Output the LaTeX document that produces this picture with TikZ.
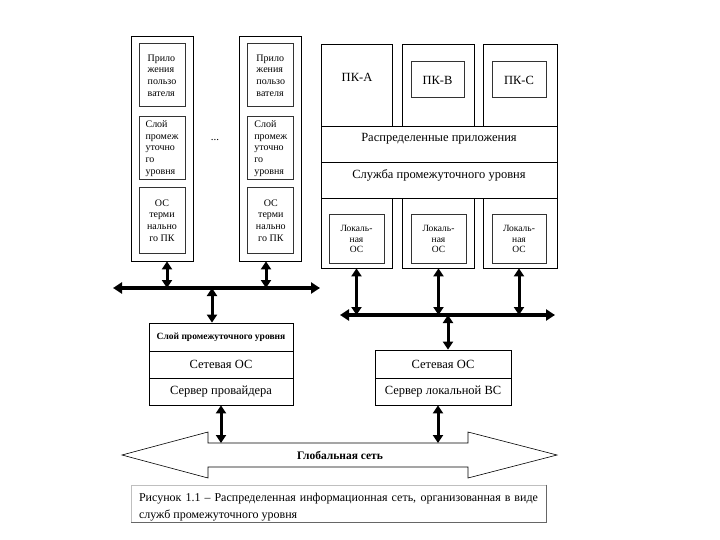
\documentclass[tikz,border=0pt]{standalone}
\usepackage{fontspec}
\setmainfont{Liberation Serif}
\usetikzlibrary{arrows.meta,calc}
\begin{document}
\begin{tikzpicture}[x=1pt,y=-1pt,
  box/.style={draw, line width=0.8pt, rectangle, inner sep=0pt},
  ibox/.style={draw=black!80, line width=1pt, rectangle, inner sep=0pt},
  small/.style={font=\fontsize{10}{11.7}\selectfont},
  lab/.style={font=\fontsize{12.5}{14}\selectfont, inner sep=0pt},
  dar/.style={line width=3pt, {Triangle[length=8pt,width=10pt]}-{Triangle[length=8pt,width=10pt]}},
  busline/.style={line width=4pt, {Triangle[length=9pt,width=11pt]}-{Triangle[length=9pt,width=11pt]}}
]
\useasboundingbox (0,0) rectangle (720,540);

% ---- left terminal columns ----
\node[box, minimum width=62pt, minimum height=225pt] (c1) at (162,148.5) {};
\node[ibox, small, align=left, minimum width=46pt, minimum height=63pt] (c1a) at (162,75.5) {Прило\\жения\\пользо\\вателя};
\node[ibox, small, align=left, minimum width=46pt, minimum height=63pt] (c1b) at (162,148.5) {Слой\\промеж\\уточно\\го\\уровня};
\node[ibox, small, align=center, minimum width=46pt, minimum height=65pt] (c1c) at (162,220.5) {ОС\\терми\\нально\\го ПК};

\node[box, minimum width=62pt, minimum height=225pt] (c2) at (270.5,148.5) {};
\node[ibox, small, align=left, minimum width=46pt, minimum height=63pt] (c2a) at (270.8,75.5) {Прило\\жения\\пользо\\вателя};
\node[ibox, small, align=left, minimum width=46pt, minimum height=63pt] (c2b) at (270.8,148.5) {Слой\\промеж\\уточно\\го\\уровня};
\node[ibox, small, align=center, minimum width=46pt, minimum height=65pt] (c2c) at (270.8,220.5) {ОС\\терми\\нально\\го ПК};

\node[font=\fontsize{11}{12}\selectfont] (dots) at (215,140) {...};

% ---- left bus ----
\coordinate (bus1L) at (113,288);
\coordinate (bus1R) at (320,288);
\draw[busline] (bus1L) -- (bus1R);
\draw[dar] ([xshift=5pt]c1.south) -- ([xshift=5pt]c1.south |- bus1L);
\draw[dar] ([xshift=-4.5pt]c2.south) -- ([xshift=-4.5pt]c2.south |- bus1L);

% ---- provider server ----
\node[box, minimum width=144pt, minimum height=28pt, font=\bfseries\fontsize{9.5}{10}\selectfont] (m1) at (221,337) {Слой промежуточного уровня};
\node[box, minimum width=144pt, minimum height=27pt, lab] (m2) at (221,364.5) {Сетевая ОС};
\node[box, minimum width=144pt, minimum height=27pt, lab] (m3) at (221,391.5) {Сервер провайдера};
\draw[dar] ([xshift=-9pt]m1.north |- bus1L) -- ([xshift=-9pt]m1.north);

% ---- right group ----
\node[box, minimum width=71pt, minimum height=82pt] (tA) at (356.5,85) {};
\node[box, minimum width=72pt, minimum height=82pt] (tB) at (438,85) {};
\node[box, minimum width=74pt, minimum height=82pt] (tC) at (520,85) {};
\node[lab] (pka) at (357,77) {ПК-А};
\node[ibox, lab, minimum width=53pt, minimum height=36pt] (pkb) at (437.5,80) {ПК-В};
\node[ibox, lab, minimum width=54pt, minimum height=36pt] (pkc) at (519,80) {ПК-С};

\node[box, minimum width=236pt, minimum height=36pt] (band1) at (439,144) {};
\node[box, minimum width=236pt, minimum height=36pt] (band2) at (439,180) {};
\node[lab] (band1t) at (439,139) {Распределенные приложения};
\node[lab] (band2t) at (439,175) {Служба промежуточного уровня};

\node[box, minimum width=71pt, minimum height=70pt] (bA) at (356.5,233) {};
\node[box, minimum width=72pt, minimum height=70pt] (bB) at (438,233) {};
\node[box, minimum width=74pt, minimum height=70pt] (bC) at (520,233) {};
\node[ibox, font=\fontsize{9.5}{10.8}\selectfont, align=center, minimum width=55pt, minimum height=48pt] (lA) at (356.5,239) {Локаль-\\ная\\ОС};
\node[ibox, font=\fontsize{9.5}{10.8}\selectfont, align=center, minimum width=55pt, minimum height=48pt] (lB) at (438.5,239) {Локаль-\\ная\\ОС};
\node[ibox, font=\fontsize{9.5}{10.8}\selectfont, align=center, minimum width=54pt, minimum height=48pt] (lC) at (519,239) {Локаль-\\ная\\ОС};

% ---- right bus ----
\coordinate (bus2L) at (340,315);
\coordinate (bus2R) at (555,315);
\draw[busline] (bus2L) -- (bus2R);
\draw[dar] (lA |- bA.south) -- (lA |- bus2L);
\draw[dar] (lB |- bB.south) -- (lB |- bus2L);
\draw[dar] (lC |- bC.south) -- (lC |- bus2L);

% ---- local server ----
\node[box, minimum width=136pt, minimum height=28pt, lab] (r1) at (443,364) {Сетевая ОС};
\node[box, minimum width=136pt, minimum height=27pt, lab] (r2) at (443,391.5) {Сервер локальной ВС};
\draw[dar] ([xshift=5pt]r1.north |- bus2L) -- ([xshift=5pt]r1.north);

% ---- global network ----
\draw[line width=0.6pt, fill=white] (122,455) -- (208,432) -- (208,443) -- (468,443) -- (468,432) -- (557,455)
  -- (468,478) -- (468,467) -- (208,467) -- (208,478) -- cycle;
\coordinate (gtop) at (340,443);
\node[font=\bfseries\fontsize{11.5}{13}\selectfont] (glob) at (340,455) {Глобальная сеть};
\draw[dar] (m3.south) -- (m3.south |- gtop);
\draw[dar] ([xshift=-5pt]r2.south) -- ([xshift=-5pt]r2.south |- gtop);

% ---- caption ----
\node[draw=black!25, line width=0.6pt, minimum width=415pt, minimum height=37pt, inner sep=0pt] (capbox) at (338.5,503.5) {};
\draw[black!60, line width=0.7pt] (capbox.north east) -- (capbox.south east) -- (capbox.south west);
\node[inner sep=0pt, text width=399pt, align=justify, font=\fontsize{12}{17}\selectfont] (cap) at (338.5,507)
  {Рисунок 1.1 -- Распределенная информационная сеть, организованная в виде служб промежуточного уровня};
\end{tikzpicture}
\end{document}
